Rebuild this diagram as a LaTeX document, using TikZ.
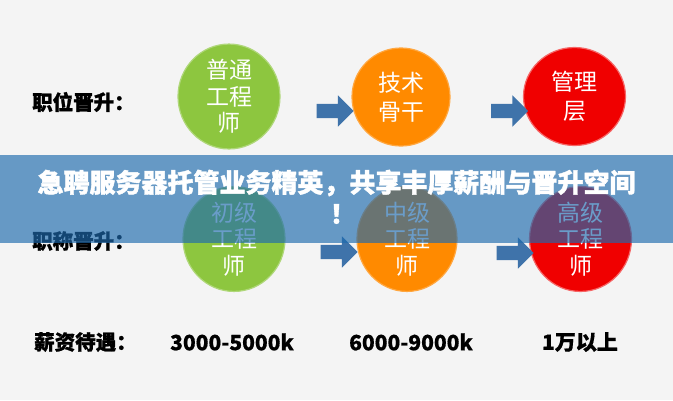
\documentclass[tikz,border=0pt]{standalone}
\usepackage{fontspec}
\setmainfont{Noto Sans CJK SC}
\usetikzlibrary{shapes.geometric,shapes.arrows}
\definecolor{bgc}{RGB}{244,244,244}
\definecolor{cgreen}{RGB}{141,198,63}
\definecolor{corange}{RGB}{255,138,0}
\definecolor{cred}{RGB}{240,0,0}
\definecolor{arrowblue}{RGB}{63,115,170}
\definecolor{bannerblue}{RGB}{29,106,174}
\tikzset{
  circ/.style={ellipse, minimum width=102pt, minimum height=98pt, inner sep=0pt,
     text=white, align=center, font=\fontsize{23}{26.5}\selectfont, line width=1.2pt},
  circtwo/.style={circ, font=\fontsize{23}{29}\selectfont},
  blockarrow/.style={single arrow, fill=arrowblue, draw=none, inner xsep=0pt, inner ysep=7pt,
     minimum width=31pt, minimum height=37pt, single arrow head extend=8.5pt},
  rowlabel/.style={anchor=west, inner sep=0pt, font=\fontsize{20.5}{24}\selectfont\bfseries\addfontfeatures{FakeBold=1.2}},
  salary/.style={inner sep=0pt, font=\fontsize{21}{24}\selectfont\bfseries\addfontfeatures{FakeBold=0.6}},
  bannertext/.style={text=white, inner sep=0pt, font=\fontsize{26}{30}\selectfont\bfseries\addfontfeatures{FakeBold=1.5}}
}
\begin{document}
\begin{tikzpicture}[x=1pt,y=-1pt]
\useasboundingbox (0,0) rectangle (673,400);
\fill[bgc] (0,0) rectangle (673,400);
% top row
\node[circ, fill=cgreen, draw=cgreen!70!white] (c1) at (229,96.5) {普通\\工程\\师};
\node[circtwo, fill=corange, draw=corange!75!white, minimum width=98pt] (c2) at (401,97) {技术\\骨干};
\node[circtwo, fill=cred, draw=cred!60!white] (c3) at (574.5,96.5) {管理\\层};
\node[blockarrow] (a1) at (331.5,111) {};
\node[blockarrow] (a2) at (506,111) {};
\node[rowlabel] (l1) at (32,102) {职位晋升：};
% second row
\node[circ, fill=cgreen, draw=cgreen!70!white] (d1) at (234,239) {初级\\工程\\师};
\node[circ, fill=corange, draw=corange!75!white, minimum width=100pt] (d2) at (407,239) {中级\\工程\\师};
\node[circ, fill=cred, draw=cred!60!white] (d3) at (580.5,239) {高级\\工程\\师};
\node[blockarrow] (b1) at (335.5,252) {};
\node[blockarrow] (b2) at (511.5,253) {};
\node[rowlabel] (l2) at (32,241) {职称晋升：};
% salary row
\node[rowlabel] (l3) at (34,342) {薪资待遇：};
\node[salary] (s1) at (232,342) {3000-5000k};
\node[salary] (s2) at (411,342) {6000-9000k};
\node[salary] (s3) at (580,342) {1万以上};
% banner
\fill[bannerblue, opacity=0.66] (0,155) rectangle (673,243);
\node[bannertext] (t1) at (336.5,183) {急聘服务器托管业务精英，共享丰厚薪酬与晋升空间};
\node[bannertext] (t2) at (343,214) {！};
\end{tikzpicture}
\end{document}
